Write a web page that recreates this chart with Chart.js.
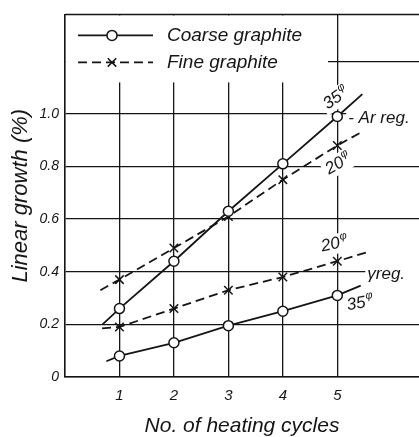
<!DOCTYPE html>
<html>
<head>
<meta charset="utf-8">
<script src="https://cdn.jsdelivr.net/npm/chart.js@4.4.1/dist/chart.umd.min.js"></script>
<style>
  html, body { margin: 0; padding: 0; background: #fff; }
  #wrap { width: 419px; height: 437px; position: relative; }
</style>
</head>
<body>
<div id="wrap"><canvas id="c" width="419" height="437"></canvas></div>
<script>
// Linear growth (%) after repeated heating cycles
const cycles = [1, 2, 3, 4, 5];
const coarseAr    = [0.26, 0.44, 0.63, 0.81, 0.99];
const fineAr      = [0.37, 0.49, 0.61, 0.75, 0.88];
const fineGamma   = [0.19, 0.26, 0.33, 0.38, 0.44];
const coarseGamma = [0.08, 0.13, 0.195, 0.25, 0.31];

// faired curves run a little past the first and last measured cycle: [cycle, growth]
const coarseArEnds    = [[0.69, 0.20], [5.46, 1.075]];
const fineArEnds      = [[0.65, 0.33], [5.44, 0.93]];
const fineGammaEnds   = [[0.68, 0.185], [5.53, 0.473]];
const coarseGammaEnds = [[0.76, 0.06], [5.43, 0.347]];

const xTickValues = [1, 2, 3, 4, 5];
const xTickLabels = ['1', '2', '3', '4', '5'];
const yTickValues = [0, 0.2, 0.4, 0.6, 0.8, 1.0, 1.2];
const yTickLabels = ['0', '0.2', '0.4', '0.6', '0.8', '1.0', ''];
const legendNames = ['Coarse graphite', 'Fine graphite'];

const FONT = "'Liberation Sans', Arial, sans-serif";
const INK = '#151515';

// curve annotations, placed in data units
const notes = [
  { text: '35', sup: 'φ', x: 4.98, y: 1.06, rot: -35 },
  { text: '- Ar reg.', x: 5.2, y: 0.985, rot: 0, align: 'left' },
  { text: '20', sup: 'φ', x: 5.02, y: 0.81, rot: -30 },
  { text: '20', sup: 'φ', x: 4.95, y: 0.505, rot: -12 },
  { text: 'γreg.', x: 5.55, y: 0.39, rot: 0, align: 'left' },
  { text: '35', sup: 'φ', x: 5.42, y: 0.28, rot: -10 }
];

function curve(label, values, ends, coarse) {
  const pts = [{ x: ends[0][0], y: ends[0][1] }]
    .concat(cycles.map((c, i) => ({ x: c, y: values[i] })))
    .concat([{ x: ends[1][0], y: ends[1][1] }]);
  const r = coarse ? 5 : 6;
  return {
    label: label,
    data: pts,
    borderColor: INK,
    borderWidth: 1.8,
    borderDash: coarse ? [] : [9, 5],
    tension: 0,
    fill: false,
    pointStyle: coarse ? 'circle' : 'crossRot',
    pointRadius: pts.map((p, i) => (i === 0 || i === pts.length - 1) ? 0 : r),
    pointBackgroundColor: '#fff',
    pointBorderColor: INK,
    pointBorderWidth: 1.5
  };
}

function noteFont(size) { return 'italic ' + size + 'px ' + FONT; }

function measureNote(ctx, n) {
  ctx.font = noteFont(17);
  let w = ctx.measureText(n.text).width;
  if (n.sup) { ctx.font = noteFont(11); w += ctx.measureText(n.sup).width + 1; }
  return w;
}

const framePlugin = {
  id: 'frameAndNotes',
  beforeDatasetsDraw(chart) {
    const { ctx, chartArea: a, scales: { x, y } } = chart;
    ctx.save();
    ctx.fillStyle = '#fff';
    // legend panel
    ctx.fillRect(a.left + 1, a.top + 1, 262, 67);
    // clear the grid behind each annotation
    notes.forEach(n => {
      const w = measureNote(ctx, n);
      const px = x.getPixelForValue(n.x);
      ctx.save();
      ctx.translate(px, y.getPixelForValue(n.y));
      ctx.rotate(n.rot * Math.PI / 180);
      if (n.align === 'left') {
        ctx.fillRect(-2, -10, a.right - px + 2, 20);
      } else {
        ctx.fillRect(-w / 2 - 3, -10, w + 6, 20);
      }
      ctx.restore();
    });
    ctx.restore();
  },
  afterDraw(chart) {
    const { ctx, chartArea: a, scales: { x, y } } = chart;
    ctx.save();
    // top edge of the frame
    ctx.strokeStyle = INK;
    ctx.lineWidth = 1.5;
    ctx.beginPath();
    ctx.moveTo(a.left, a.top);
    ctx.lineTo(a.right, a.top);
    ctx.stroke();

    // legend: line sample with marker, then the name
    [0, 1].forEach(i => {
      const ds = chart.data.datasets[i];
      const yy = a.top + 21 + i * 27;
      ctx.strokeStyle = INK;
      ctx.lineWidth = ds.borderWidth;
      ctx.setLineDash(ds.borderDash);
      ctx.beginPath();
      ctx.moveTo(a.left + 13, yy);
      ctx.lineTo(a.left + 88, yy);
      ctx.stroke();
      ctx.setLineDash([]);
      ctx.fillStyle = '#fff';
      ctx.lineWidth = ds.pointBorderWidth;
      Chart.helpers.drawPoint(ctx, {
        pointStyle: ds.pointStyle, radius: ds.pointStyle === 'circle' ? 5 : 6,
        borderWidth: ds.pointBorderWidth, rotation: 0
      }, a.left + 47, yy);
      ctx.fillStyle = INK;
      ctx.font = noteFont(19);
      ctx.textAlign = 'left';
      ctx.textBaseline = 'middle';
      ctx.fillText(legendNames[i], a.left + 102, yy);
    });

    // annotations
    ctx.fillStyle = INK;
    ctx.textBaseline = 'middle';
    notes.forEach(n => {
      const w = measureNote(ctx, n);
      ctx.save();
      ctx.translate(x.getPixelForValue(n.x), y.getPixelForValue(n.y));
      ctx.rotate(n.rot * Math.PI / 180);
      let x0 = n.align === 'left' ? 0 : -w / 2;
      ctx.textAlign = 'left';
      ctx.font = noteFont(17);
      ctx.fillText(n.text, x0, 0);
      if (n.sup) {
        const tw = ctx.measureText(n.text).width;
        ctx.font = noteFont(11);
        ctx.fillText(n.sup, x0 + tw + 1, -6);
      }
      ctx.restore();
    });
    ctx.restore();
  }
};

new Chart(document.getElementById('c'), {
  type: 'line',
  data: {
    datasets: [
      curve('Coarse graphite, Ar reg.', coarseAr, coarseArEnds, true),
      curve('Fine graphite, Ar reg.', fineAr, fineArEnds, false),
      curve('Fine graphite, γ reg.', fineGamma, fineGammaEnds, false),
      curve('Coarse graphite, γ reg.', coarseGamma, coarseGammaEnds, true)
    ]
  },
  options: {
    responsive: false,
    animation: false,
    events: [],
    layout: { padding: { top: 12, right: 0, left: 0, bottom: 0 } },
    plugins: { legend: { display: false }, tooltip: { enabled: false } },
    scales: {
      x: {
        type: 'linear',
        min: 0,
        max: 6.5,
        afterBuildTicks: s => { s.ticks = xTickValues.map(v => ({ value: v })); },
        afterFit: s => { s.height = 60; },
        ticks: {
          callback: (v) => xTickLabels[xTickValues.indexOf(v)] ?? '',
          color: INK,
          padding: 10,
          maxRotation: 0,
          font: { family: FONT, style: 'italic', size: 15 }
        },
        grid: { color: INK, lineWidth: 1.3, drawTicks: false },
        border: { display: true, color: INK, width: 1.6 },
        title: {
          display: true,
          text: 'No. of heating cycles',
          color: INK,
          padding: { top: 0, bottom: 0 },
          font: { family: FONT, style: 'italic', size: 21, lineHeight: 1 }
        }
      },
      y: {
        type: 'linear',
        min: 0,
        max: 1.378,
        afterBuildTicks: s => { s.ticks = yTickValues.map(v => ({ value: v })); },
        afterFit: s => { s.width = 65; },
        ticks: {
          callback: (v) => yTickLabels[yTickValues.findIndex(t => Math.abs(t - v) < 1e-6)] ?? '',
          color: INK,
          padding: 6,
          font: { family: FONT, style: 'italic', size: 14 }
        },
        grid: { color: INK, lineWidth: 1.3, drawTicks: false },
        border: { display: true, color: INK, width: 1.6 },
        title: {
          display: true,
          text: 'Linear growth (%)',
          color: INK,
          padding: { top: 8, bottom: 0 },
          font: { family: FONT, style: 'italic', size: 22, lineHeight: 1.2 }
        }
      }
    }
  },
  plugins: [framePlugin]
});
</script>
</body>
</html>
